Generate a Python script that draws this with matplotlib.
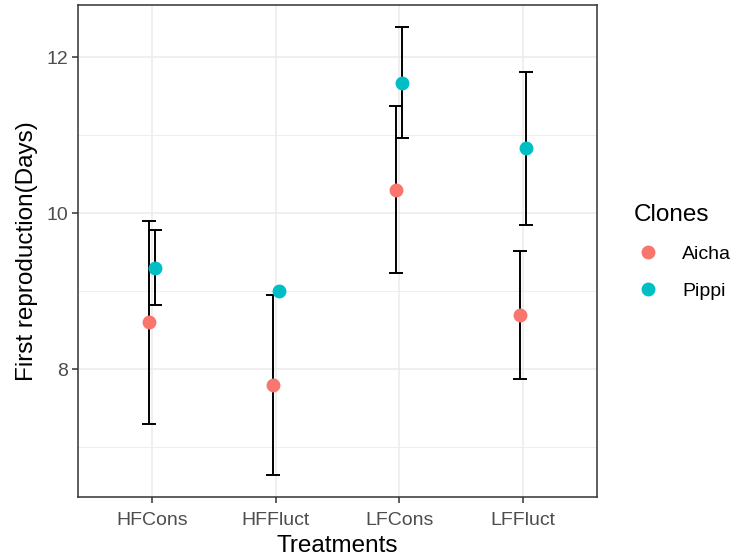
import matplotlib
matplotlib.use("Agg")
import matplotlib.pyplot as plt
import numpy as np
from matplotlib.lines import Line2D

plt.rcParams['font.family'] = ['Liberation Sans', 'DejaVu Sans']

# Mean day of first reproduction per treatment, with error half-widths.
treatments = ['HFCons', 'HFFluct', 'LFCons', 'LFFluct']
clones = ['Aicha', 'Pippi']
aicha_mean = [8.6, 7.8, 10.3, 8.7]
aicha_err = [1.3, 1.15, 1.07, 0.82]
pippi_mean = [9.3, 9.0, 11.67, 10.83]
pippi_err = [0.48, np.nan, 0.71, 0.98]  # only one value for HFFluct

colours = {'Aicha': '#F8766D', 'Pippi': '#00BFC4'}
dodge = 0.025

fig = plt.figure(figsize=(7.39, 5.56), dpi=100)
ax = fig.add_axes([78/739, 1 - 497/556, (597 - 78)/739, (497 - 5)/556])

x = np.arange(1, len(treatments) + 1)
series = [(aicha_mean, aicha_err), (pippi_mean, pippi_err)]
for i, (name, (mean, err)) in enumerate(zip(clones, series)):
    xs = x + (i - 0.5) * 2 * dodge
    ax.errorbar(xs, mean, yerr=err, fmt='none', ecolor='black',
                elinewidth=1.4, capsize=5, capthick=1.4, zorder=3)
    ax.plot(xs, mean, 'o', color=colours[name], markersize=10,
            markeredgewidth=0, zorder=4)

# ggplot-like discrete / continuous expansion
ax.set_xlim(0.4, len(treatments) + 0.6)
lo = np.nanmin(np.array(aicha_mean) - np.array(aicha_err))
hi = np.nanmax(np.array(pippi_mean) + np.array(pippi_err))
pad = (hi - lo) * 0.05
ax.set_ylim(lo - pad, hi + pad)

ax.set_xticks(x)
ax.set_xticklabels(treatments)
ax.set_yticks([8, 10, 12])
ax.set_yticks([7, 9, 11], minor=True)

ax.set_axisbelow(True)
ax.grid(which='major', color='#EBEBEB', linewidth=1.1)
ax.grid(which='minor', axis='y', color='#EBEBEB', linewidth=0.6)
for s in ax.spines.values():
    s.set_color('#333333')
    s.set_linewidth(1.1)

ax.tick_params(which='major', length=4, width=1.1, color='#333333',
               labelsize=14, labelcolor='#4D4D4D', pad=3)
ax.tick_params(axis='x', which='major', pad=7)
ax.tick_params(which='minor', length=0)

ax.set_xlabel('Treatments', fontsize=17.5, labelpad=4)
ax.set_ylabel('First reproduction(Days)', fontsize=17.5, labelpad=6)

handles = [Line2D([], [], marker='o', linestyle='none', color=colours[c],
                  markersize=10, markeredgewidth=0) for c in clones]
leg = fig.legend(handles, clones, title='Clones', loc='center left',
                 bbox_to_anchor=(616/739, 1 - 252/556), frameon=False,
                 fontsize=14, title_fontsize=17.5, alignment='left',
                 handletextpad=1.0, labelspacing=1.0, handlelength=1.5)

fig.savefig('out.png', dpi=100)
